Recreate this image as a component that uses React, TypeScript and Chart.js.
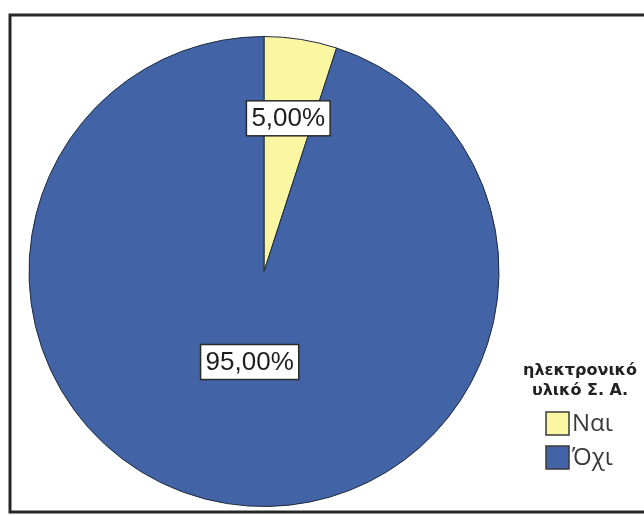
import React, { useEffect, useRef } from "react";
import { Chart, registerables } from "chart.js";

Chart.register(...registerables);

const categories = ["Ναι", "Όχι"];
const values = [5, 95];
const valueLabels = ["5,00%", "95,00%"];
const sliceColors = ["#faf6a2", "#4263a6"];
const legendTitle = ["ηλεκτρονικό", "υλικό Σ. Α."];
const labelRadiusFraction = [0.66, 0.39];

const overlayPlugin = {
  id: "overlay",
  beforeDraw(chart: any) {
    const ctx = chart.ctx;
    ctx.save();
    ctx.fillStyle = "#ffffff";
    ctx.fillRect(0, 0, chart.width, chart.height);
    ctx.strokeStyle = "#262826";
    ctx.lineWidth = 3;
    ctx.strokeRect(10, 15, 700, 497);
    ctx.restore();
  },
  afterDraw(chart: any) {
    const ctx = chart.ctx;
    const meta = chart.getDatasetMeta(0);
    ctx.save();
    meta.data.forEach((arc: any, i: number) => {
      const { x, y, startAngle, endAngle, outerRadius } = arc.getProps(
        ["x", "y", "startAngle", "endAngle", "outerRadius"],
        true
      );
      const mid = (startAngle + endAngle) / 2;
      const r = outerRadius * labelRadiusFraction[i];
      const lx = x + Math.cos(mid) * r;
      const ly = y + Math.sin(mid) * r;
      ctx.font = "26px 'Liberation Sans', Arial, sans-serif";
      const text = valueLabels[i];
      const w = ctx.measureText(text).width;
      const bw = w + 10;
      const bh = 35;
      ctx.fillStyle = "#ffffff";
      ctx.fillRect(lx - bw / 2, ly - bh / 2, bw, bh);
      ctx.strokeStyle = "#2a2a2a";
      ctx.lineWidth = 1.5;
      ctx.strokeRect(lx - bw / 2, ly - bh / 2, bw, bh);
      ctx.fillStyle = "#1e1e1e";
      ctx.textAlign = "center";
      ctx.textBaseline = "middle";
      ctx.fillText(text, lx, ly + 1);
    });

    // legend
    ctx.fillStyle = "#222222";
    ctx.textAlign = "center";
    ctx.textBaseline = "alphabetic";
    ctx.font = "bold 16px 'DejaVu Sans', sans-serif";
    ctx.fillText(legendTitle[0], 580, 375);
    ctx.fillText(legendTitle[1], 580, 395);

    categories.forEach((c, i) => {
      const by = 412 + i * 34;
      ctx.fillStyle = sliceColors[i];
      ctx.fillRect(546, by, 23, 23);
      ctx.strokeStyle = "#3a3a3a";
      ctx.lineWidth = 1.5;
      ctx.strokeRect(546, by, 23, 23);
      ctx.fillStyle = "#3a3a3a";
      ctx.textAlign = "left";
      ctx.textBaseline = "middle";
      ctx.font = "24px 'Liberation Sans Narrow', 'Open Sans', sans-serif";
      ctx.fillText(c, 572, by + 12);
    });
    ctx.restore();
  },
};

export default function App() {
  const ref = useRef<HTMLCanvasElement>(null);
  useEffect(() => {
    document.body.style.margin = "0";
    const chart = new Chart(ref.current!, {
      type: "pie",
      data: {
        labels: categories,
        datasets: [
          {
            data: values,
            backgroundColor: sliceColors,
            borderColor: "#1f2a3c",
            borderWidth: 1,
          },
        ],
      },
      options: {
        responsive: false,
        animation: false,
        layout: { padding: { left: 28, right: 144, top: 36, bottom: 9 } },
        plugins: {
          legend: { display: false },
          tooltip: { enabled: false },
        },
      },
      plugins: [overlayPlugin],
    });
    return () => chart.destroy();
  }, []);
  return (
    <div style={{ position: "absolute", left: 0, top: 0, width: 644, height: 516 }}>
      <canvas ref={ref} width={644} height={516} />
    </div>
  );
}
